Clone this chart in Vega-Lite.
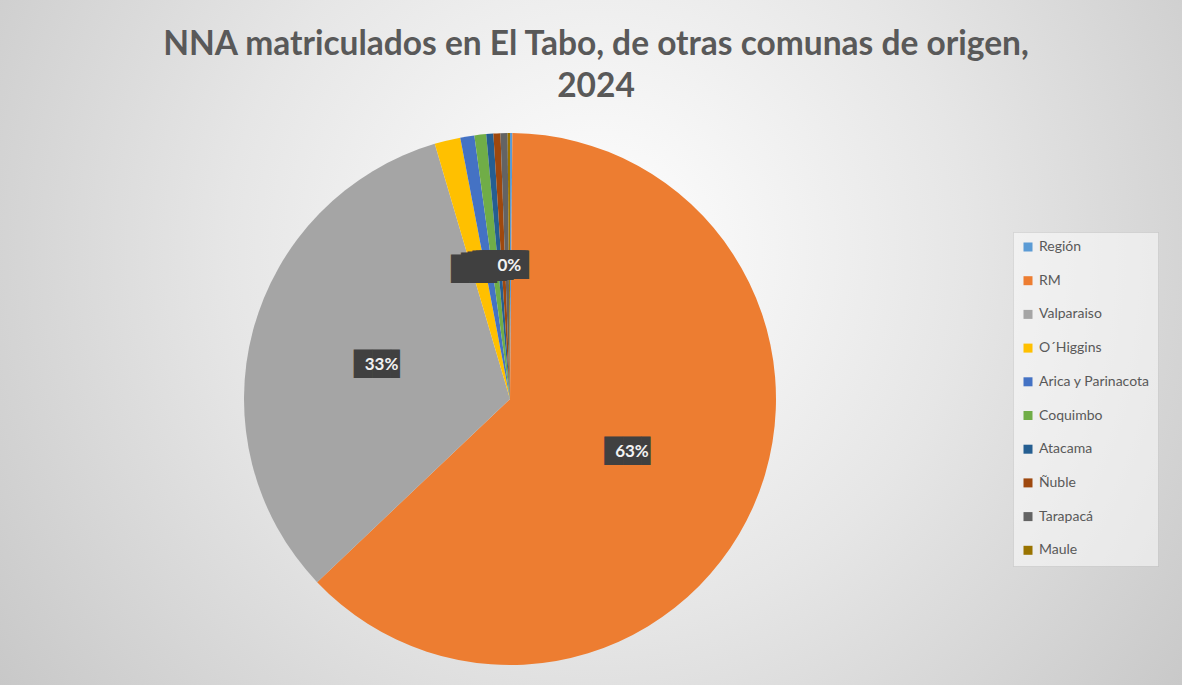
{
  "$schema": "https://vega.github.io/schema/vega-lite/v6.json",
  "width": 1344,
  "height": 798,
  "autosize": {"type": "none"},
  "padding": {"left": -162, "top": 0, "right": 0, "bottom": -113},
  "background": "#cccccc",
  "view": {
    "stroke": null,
    "fill": {
      "gradient": "radial",
      "x1": 0.565, "y1": 0.389, "r1": 0,
      "x2": 0.565, "y2": 0.389, "r2": 0.55,
      "stops": [
        {"offset": 0, "color": "#ffffff"},
        {"offset": 0.5, "color": "#e6e6e6"},
        {"offset": 1, "color": "#c8c8c8"}
      ]
    }
  },
  "title": {
    "text": ["NNA matriculados en El Tabo, de otras comunas de origen,", "2024"],
    "font": "Lato",
    "fontSize": 33.5,
    "fontWeight": "bold",
    "color": "#595959",
    "lineHeight": 42,
    "anchor": "middle",
    "offset": -104,
    "dx": 86
  },
  "data": {
    "values": [
      {"comuna": "Región", "n": 1, "orden": 1, "etiqueta": "0%"},
      {"comuna": "RM", "n": 440, "orden": 2, "etiqueta": "63%"},
      {"comuna": "Valparaiso", "n": 228, "orden": 3, "etiqueta": "33%"},
      {"comuna": "O´Higgins", "n": 11, "orden": 4, "etiqueta": "2%"},
      {"comuna": "Arica y Parinacota", "n": 6, "orden": 5, "etiqueta": "1%"},
      {"comuna": "Coquimbo", "n": 5, "orden": 6, "etiqueta": "1%"},
      {"comuna": "Atacama", "n": 3, "orden": 7, "etiqueta": "0%"},
      {"comuna": "Ñuble", "n": 3, "orden": 8, "etiqueta": "0%"},
      {"comuna": "Tarapacá", "n": 3, "orden": 9, "etiqueta": "0%"},
      {"comuna": "Maule", "n": 1, "orden": 10, "etiqueta": "0%"}
    ]
  },
  "layer": [
    {
      "mark": {"type": "arc", "outerRadius": 266, "stroke": null},
      "encoding": {
        "theta": {"field": "n", "type": "quantitative", "stack": true},
        "order": {"field": "orden", "type": "quantitative", "sort": "ascending"},
        "color": {
          "field": "comuna",
          "type": "nominal",
          "scale": {
            "domain": ["Región", "RM", "Valparaiso", "O´Higgins", "Arica y Parinacota", "Coquimbo", "Atacama", "Ñuble", "Tarapacá", "Maule"],
            "range": ["#5B9BD5", "#ED7D31", "#A5A5A5", "#FFC000", "#4472C4", "#70AD47", "#255E91", "#9E480E", "#636363", "#997300"]
          },
          "legend": {
            "title": null,
            "orient": "none",
            "legendX": 1175,
            "legendY": 232,
            "direction": "vertical",
            "fillColor": "rgba(255,255,255,0.5)",
            "strokeColor": "rgba(0,0,0,0.07)",
            "padding": 8,
            "symbolType": "square",
            "symbolSize": 81,
            "symbolStrokeWidth": 0,
            "labelFont": "Lato",
            "labelFontSize": 14,
            "labelColor": "#595959",
            "labelOffset": 4,
            "rowPadding": 19.7,
            "symbolLimit": 20
          }
        }
      }
    },
    {
      "mark": {"type": "text", "radius": 133, "font": "DejaVu Sans", "fontSize": 24, "color": "#404040", "align": "center", "baseline": "middle"},
      "encoding": {
        "theta": {"field": "n", "type": "quantitative", "stack": true},
        "order": {"field": "orden", "type": "quantitative", "sort": "ascending"},
        "detail": {"field": "comuna", "type": "nominal"},
        "text": {"value": "██▌"}
      }
    },
    {
      "mark": {"type": "text", "radius": 133, "font": "Lato", "fontSize": 17, "fontWeight": "bold", "color": "#f2f2f2", "align": "center", "baseline": "middle"},
      "encoding": {
        "theta": {"field": "n", "type": "quantitative", "stack": true},
        "order": {"field": "orden", "type": "quantitative", "sort": "ascending"},
        "detail": {"field": "comuna", "type": "nominal"},
        "text": {
          "condition": {"test": "indexof(['RM', 'Valparaiso', 'Maule'], datum.comuna) >= 0", "field": "etiqueta"},
          "value": ""
        }
      }
    }
  ]
}
